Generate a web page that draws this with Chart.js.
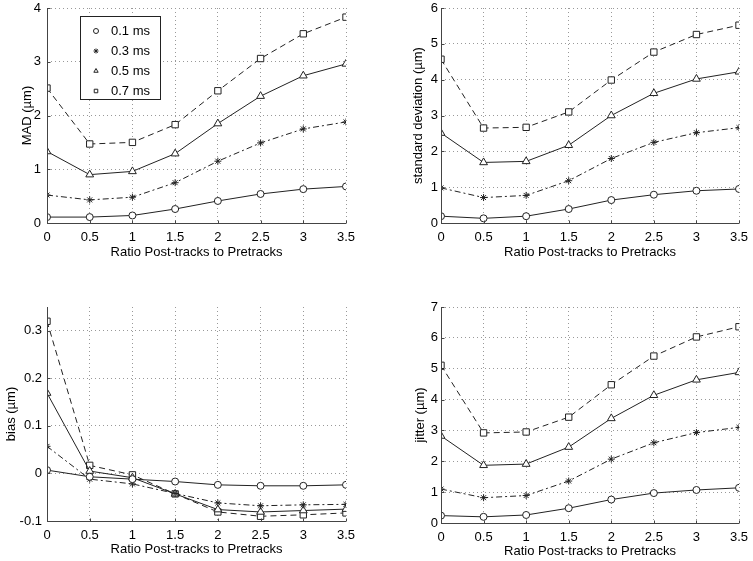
<!DOCTYPE html>
<html lang="en">
<head>
    <meta charset="UTF-8">
    <title>Post-tracks to Pretracks</title>
    <script src="https://cdn.jsdelivr.net/npm/chart.js"></script>
    <style>
        body { margin: 0; background: #fff; }
        canvas { position: absolute; }
    </style>
</head>
<body>
    <canvas id="mad" width="376" height="270" style="left:0;top:0"></canvas>
    <canvas id="std" width="377" height="270" style="left:376px;top:0"></canvas>
    <canvas id="bias" width="376" height="291" style="left:0;top:270px"></canvas>
    <canvas id="jitter" width="377" height="291" style="left:376px;top:270px"></canvas>
    <script>
        // x values (ratio post-tracks to pretracks)
        const ratios = [0, 0.5, 1, 1.5, 2, 2.5, 3, 3.5];
        const seriesLabels = ['0.1 ms', '0.3 ms', '0.5 ms', '0.7 ms'];

        // MAD (um)
        const mad01 = [0.11, 0.11, 0.14, 0.26, 0.41, 0.54, 0.63, 0.68];
        const mad03 = [0.52, 0.43, 0.48, 0.75, 1.15, 1.49, 1.75, 1.88];
        const mad05 = [1.33, 0.90, 0.96, 1.29, 1.85, 2.36, 2.74, 2.96];
        const mad07 = [2.51, 1.47, 1.50, 1.83, 2.46, 3.06, 3.52, 3.83];

        // standard deviation (um)
        const std01 = [0.19, 0.13, 0.19, 0.39, 0.64, 0.79, 0.90, 0.95];
        const std03 = [0.98, 0.71, 0.77, 1.18, 1.80, 2.25, 2.52, 2.66];
        const std05 = [2.51, 1.69, 1.72, 2.17, 3.00, 3.62, 4.02, 4.22];
        const std07 = [4.57, 2.65, 2.67, 3.10, 3.99, 4.77, 5.26, 5.52];

        // bias (um)
        const bias01 = [0.007, -0.007, -0.012, -0.017, -0.024, -0.026, -0.026, -0.024];
        const bias03 = [0.057, -0.012, -0.022, -0.042, -0.062, -0.068, -0.066, -0.065];
        const bias05 = [0.169, 0.005, -0.009, -0.043, -0.076, -0.081, -0.078, -0.075];
        const bias07 = [0.320, 0.017, -0.003, -0.043, -0.081, -0.090, -0.087, -0.083];

        // jitter (um)
        const jit01 = [0.24, 0.20, 0.26, 0.48, 0.76, 0.97, 1.07, 1.14];
        const jit03 = [1.10, 0.82, 0.89, 1.36, 2.07, 2.60, 2.93, 3.10];
        const jit05 = [2.82, 1.87, 1.91, 2.46, 3.39, 4.14, 4.64, 4.88];
        const jit07 = [5.11, 2.92, 2.95, 3.43, 4.48, 5.41, 6.03, 6.36];

        const biasTicks = [-0.1, 0, 0.1, 0.2, 0.3];

        const FONT = 'Liberation Sans, Arial, sans-serif';
        const FSIZE = 13;
        const INK = '#222';

        const styles = [
            { pointStyle: 'circle', radius: 3.5, dash: [] },
            { pointStyle: 'star', radius: 3.5, dash: [6, 3, 2, 3] },
            { pointStyle: 'triangle', radius: 4.5, dash: [] },
            { pointStyle: 'rect', radius: 4.5, dash: [6, 4] }
        ];

        const fmt = v => String(Number(v.toFixed(2)));

        function makeDatasets(series) {
            return series.map((vals, i) => ({
                label: seriesLabels[i],
                data: vals.map((v, j) => ({ x: ratios[j], y: v })),
                borderColor: INK,
                borderWidth: 1,
                borderDash: styles[i].dash,
                pointStyle: styles[i].pointStyle,
                pointRadius: styles[i].radius,
                pointBorderColor: INK,
                pointBackgroundColor: '#fff',
                pointBorderWidth: 1,
                tension: 0
            }));
        }

        // left and bottom axis lines with small inward ticks
        const axesPlugin = {
            id: 'axesLines',
            afterDatasetsDraw(chart) {
                const { ctx, chartArea: a, scales } = chart;
                const l = Math.round(a.left) + 0.5;
                const b = Math.round(a.bottom) + 0.5;
                ctx.save();
                ctx.strokeStyle = '#444';
                ctx.lineWidth = 1;
                ctx.beginPath();
                ctx.moveTo(l, a.top);
                ctx.lineTo(l, b);
                ctx.lineTo(a.right, b);
                scales.x.ticks.forEach(t => {
                    const px = Math.round(scales.x.getPixelForValue(t.value)) + 0.5;
                    ctx.moveTo(px, b); ctx.lineTo(px, b - 3);
                });
                scales.y.ticks.forEach(t => {
                    const py = Math.round(scales.y.getPixelForValue(t.value)) + 0.5;
                    ctx.moveTo(l, py); ctx.lineTo(l + 3, py);
                });
                ctx.stroke();
                ctx.restore();
            }
        };

        // legend drawn inside the first axes
        const boxLegend = {
            id: 'boxLegend',
            afterDraw(chart, args, opts) {
                if (!opts.show) return;
                const ctx = chart.ctx;
                ctx.save();
                ctx.fillStyle = '#fff';
                ctx.fillRect(80, 16, 80, 83);
                ctx.strokeStyle = '#222';
                ctx.lineWidth = 1;
                ctx.strokeRect(80.5, 16.5, 80, 83);
                ctx.font = FSIZE + 'px ' + FONT;
                ctx.textBaseline = 'middle';
                chart.data.datasets.forEach((ds, i) => {
                    const y = 31 + i * 20;
                    ctx.strokeStyle = INK;
                    ctx.fillStyle = '#fff';
                    Chart.helpers.drawPoint(ctx, { pointStyle: ds.pointStyle, radius: 2.5, borderWidth: 1 }, 96, y);
                    ctx.fillStyle = '#000';
                    ctx.fillText(ds.label, 111, y);
                });
                ctx.restore();
            }
        };

        function makeChart(id, series, opt) {
            const yScale = {
                type: 'linear',
                min: opt.yMin,
                max: opt.yMax,
                ticks: {
                    stepSize: opt.yStep,
                    color: '#000',
                    padding: opt.yPad,
                    callback: fmt,
                    font: { family: FONT, size: FSIZE }
                },
                grid: { color: '#999', drawTicks: false },
                border: { display: false, dash: [1, 3] },
                title: {
                    display: true,
                    text: opt.yTitle,
                    color: '#000',
                    padding: 0,
                    font: { family: FONT, size: FSIZE }
                },
                afterFit(scale) {
                    scale.width = opt.yWidth;
                    scale.paddingTop = 0;
                    scale.paddingBottom = 0;
                }
            };
            if (opt.yTicks) {
                yScale.afterBuildTicks = (scale) => {
                    scale.ticks = opt.yTicks.map(v => ({ value: v }));
                };
            }
            return new Chart(document.getElementById(id), {
                type: 'line',
                data: { datasets: makeDatasets(series) },
                options: {
                    responsive: false,
                    animation: false,
                    layout: { padding: opt.pad },
                    plugins: {
                        legend: { display: false },
                        tooltip: { enabled: false },
                        boxLegend: { show: !!opt.legend }
                    },
                    scales: {
                        x: {
                            type: 'linear',
                            min: 0,
                            max: 3.5,
                            ticks: {
                                stepSize: 0.5,
                                color: '#000',
                                padding: 7,
                                maxRotation: 0,
                                callback: fmt,
                                font: { family: FONT, size: FSIZE }
                            },
                            grid: { color: '#999', drawTicks: false },
                            border: { display: false, dash: [1, 3] },
                            title: {
                                display: true,
                                text: 'Ratio Post-tracks to Pretracks',
                                color: '#000',
                                padding: 0,
                                font: { family: FONT, size: FSIZE }
                            },
                            afterFit(scale) {
                                scale.height = opt.xHeight;
                                scale.paddingLeft = 0;
                                scale.paddingRight = 0;
                            }
                        },
                        y: yScale
                    }
                },
                plugins: [axesPlugin, boxLegend]
            });
        }

        makeChart('mad', [mad01, mad03, mad05, mad07], {
            yMin: 0, yMax: 4, yStep: 1, yTitle: 'MAD (\u00b5m)', yPad: 6,
            yWidth: 27, xHeight: 37, pad: { left: 20, top: 8, right: 30, bottom: 10 },
            legend: true
        });
        makeChart('std', [std01, std03, std05, std07], {
            yMin: 0, yMax: 6, yStep: 1, yTitle: 'standard deviation (\u00b5m)', yPad: 3,
            yWidth: 30, xHeight: 37, pad: { left: 35, top: 8, right: 14, bottom: 10 }
        });
        makeChart('bias', [bias01, bias03, bias05, bias07], {
            yMin: -0.1, yMax: 0.35, yStep: 0.1, yTicks: biasTicks, yTitle: 'bias (\u00b5m)', yPad: 5,
            yWidth: 43, xHeight: 36, pad: { left: 4, top: 37, right: 30, bottom: 4 }
        });
        makeChart('jitter', [jit01, jit03, jit05, jit07], {
            yMin: 0, yMax: 7, yStep: 1, yTitle: 'jitter (\u00b5m)', yPad: 3,
            yWidth: 28, xHeight: 36, pad: { left: 37, top: 37, right: 14, bottom: 2 }
        });
    </script>
</body>
</html>
